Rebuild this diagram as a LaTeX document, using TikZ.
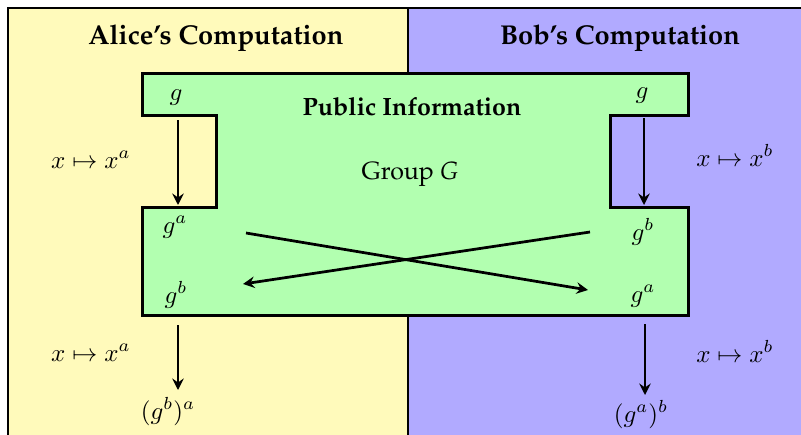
\documentclass[tikz,border=0pt]{standalone}
\usepackage[T1]{fontenc}
\usepackage{palatino}
\usetikzlibrary{arrows.meta}

\definecolor{aliceyellow}{RGB}{255,250,187}
\definecolor{bobviolet}{RGB}{177,170,255}
\definecolor{pubgreen}{RGB}{178,255,176}

\begin{document}
\begin{tikzpicture}[x=0.4pt,y=-0.4pt,
  panel/.style={draw=black, line width=0.8pt},
  pubarea/.style={draw=black, line width=1.2pt, fill=pubgreen, line join=miter},
  arr/.style={line width=1.1pt, -{Stealth[length=4.6pt,width=4.6pt,inset=1.6pt]}},
  lbl/.style={anchor=base, inner sep=0pt},
  ttl/.style={anchor=base, inner sep=0pt, font=\bfseries\fontsize{10.9}{13}\selectfont}]

\useasboundingbox (0,0) rectangle (801,434);
\clip (0,0) rectangle (801,434);
\fill[white] (0,0) rectangle (801,434);

% the two parties
\draw[panel, fill=aliceyellow] (7.5,7.5) rectangle (408,460);
\draw[panel, fill=bobviolet] (408,7.5) rectangle (830,460);

% shared region
\draw[pubarea] (142,73) -- (688,73) -- (688,115) -- (610,115) -- (610,207)
  -- (688,207) -- (688,315) -- (142,315) -- (142,207) -- (216,207)
  -- (216,115) -- (142,115) -- cycle;

% headings
\node[ttl] (alice) at (216,44) {Alice's Computation};
\node[ttl] (bob) at (620,44) {Bob's Computation};
\node[lbl, font=\bfseries] (pub) at (412,115) {Public Information};
\node[lbl] (grp) at (410,179) {Group \textit{G}};

% values
\node[lbl] (gL) at (176,100) {$g$};
\node[lbl] (gR) at (642,98) {$g$};
\node[lbl] (gaL) at (175,233) {$g^a$};
\node[lbl] (gbL) at (176,303) {$g^b$};
\node[lbl] (gbR) at (643,240) {$g^b$};
\node[lbl] (gaR) at (643,302) {$g^a$};
\node[lbl] (gbaL) at (168,419) {$(g^b)^a$};
\node[lbl] (gabR) at (641,422) {$(g^a)^b$};

% exponentiation maps
\node[lbl] (mapA1) at (91,168) {$x\mapsto x^a$};
\node[lbl] (mapB1) at (735,166) {$x\mapsto x^b$};
\node[lbl] (mapA2) at (91,361) {$x\mapsto x^a$};
\node[lbl] (mapB2) at (735,362) {$x\mapsto x^b$};

% arrow ends
\coordinate (a1s) at (178,120);
\coordinate (a1e) at (178,205);
\coordinate (b1s) at (644,118);
\coordinate (b1e) at (644,205);
\coordinate (a2s) at (178,325);
\coordinate (a2e) at (178,390);
\coordinate (b2s) at (645,324);
\coordinate (b2e) at (645,395);
\coordinate (xas) at (246,233);
\coordinate (xae) at (588,290);
\coordinate (xbs) at (590,232);
\coordinate (xbe) at (243,284);

\draw[arr] (a1s) -- (a1e);
\draw[arr] (b1s) -- (b1e);
\draw[arr] (a2s) -- (a2e);
\draw[arr] (b2s) -- (b2e);
\draw[arr] (xas) -- (xae);
\draw[arr] (xbs) -- (xbe);
\end{tikzpicture}
\end{document}
